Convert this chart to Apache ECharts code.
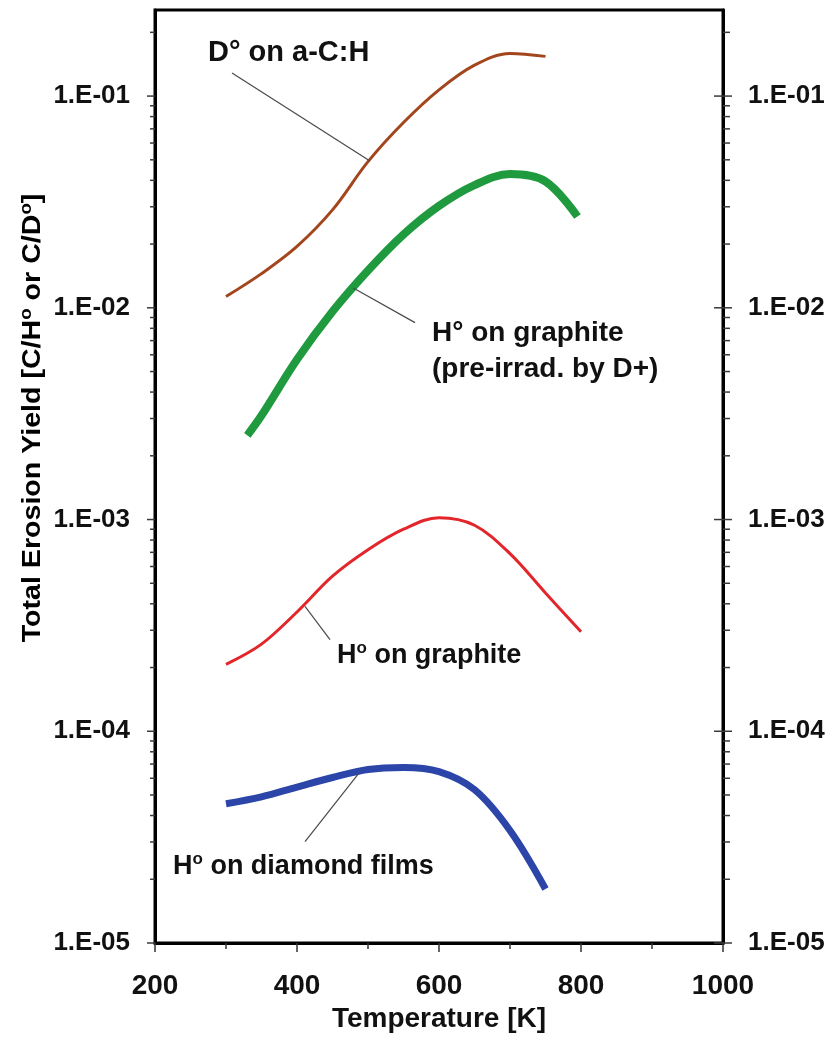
<!DOCTYPE html>
<html>
<head>
<meta charset="utf-8">
<title>Total erosion yield vs temperature</title>
<script src="https://cdn.jsdelivr.net/npm/echarts@6/dist/echarts.min.js"></script>
<style>
html, body { margin: 0; padding: 0; background: #fff; }
#chart { width: 835px; height: 1043px; }
</style>
</head>
<body>
<div id="chart"></div>
<script>
// Total erosion yield against surface temperature for four exposures.
// D° on a-C:H
const tempACH  = [300, 350, 400, 450, 500, 550, 600, 650, 700, 750];
const yieldACH = [0.0113, 0.0145, 0.0195, 0.0290, 0.0490, 0.0750, 0.1070, 0.1400, 0.1590, 0.1540];
// H° on graphite pre-irradiated by D+
const tempPre  = [330, 350, 400, 450, 500, 550, 600, 650, 700, 750, 795];
const yieldPre = [0.0025, 0.0031, 0.0057, 0.0096, 0.0150, 0.0222, 0.0303, 0.0380, 0.0428, 0.0395, 0.0270];
// H° on graphite
const tempHG   = [300, 350, 400, 450, 500, 550, 600, 650, 700, 750, 800];
const yieldHG  = [2.07e-4, 2.58e-4, 3.66e-4, 5.4e-4, 7.2e-4, 9.0e-4, 1.02e-3, 9.4e-4, 6.9e-4, 4.5e-4, 2.95e-4];
// H° on diamond films
const tempDia  = [300, 350, 400, 450, 500, 550, 600, 650, 700, 750];
const yieldDia = [4.55e-5, 4.9e-5, 5.45e-5, 6.05e-5, 6.6e-5, 6.75e-5, 6.45e-5, 5.3e-5, 3.4e-5, 1.8e-5];

// Axis ranges and tick values
const X_MIN = 200, X_MAX = 1000, X_STEP = 200;
const Y_MIN = 1e-5, Y_MAX = 0.255;
const Y_DECADES = [1e-5, 1e-4, 1e-3, 1e-2, 1e-1];
const Y_MINOR_STEPS = [2, 3, 4, 5, 6, 7, 8, 9];

// Leader lines from each caption to its curve, [temperature, yield]
const leadACH = [[308.5, 0.1284], [502.8, 0.0494]];
const leadPre = [[479.3, 0.0124], [566.2, 0.00851]];
const leadHG  = [[411.3, 3.89e-4], [446.5, 2.71e-4]];
const leadDia = [[486.4, 6.3e-5], [411.3, 3.01e-5]];

const FONT = '"Liberation Sans", Arial, Helvetica, sans-serif';
const INK = '#111';
const SMOOTH = 0.35;

function pairs(xs, ys) { return xs.map((x, i) => [x, ys[i]]); }

function decadeLabel(v) {
  const lg = Math.log10(v);
  const e = Math.round(lg);
  if (Math.abs(lg - e) > 1e-6) return '';
  const n = Math.abs(e);
  return '1.E' + (e < 0 ? '-' : '+') + (n < 10 ? '0' + n : String(n));
}

// Tick list for the log axes: [value, isMajor]
const yTicks = [];
Y_DECADES.forEach(d => {
  yTicks.push([d, 1]);
  Y_MINOR_STEPS.forEach(k => { if (d * k <= Y_MAX) yTicks.push([d * k, 0]); });
});

function leader(pts) {
  return {
    silent: true,
    symbol: ['none', 'none'],
    label: { show: false },
    lineStyle: { color: '#4a4a4a', width: 1.2, type: 'solid' },
    emphasis: { disabled: true },
    data: [[{ coord: pts[0] }, { coord: pts[1] }]]
  };
}

const richText = {
  t: { fontSize: 27, fontWeight: 'bold', fontFamily: FONT, color: INK, lineHeight: 32 },
  s: { fontSize: 17, fontWeight: 'bold', fontFamily: FONT, color: INK, lineHeight: 17, verticalAlign: 'top' }
};

function yAxisCfg(pos) {
  return {
    type: 'log',
    logBase: 10,
    min: Y_MIN,
    max: Y_MAX,
    position: pos,
    axisLine: { show: true, onZero: false, lineStyle: { color: '#000', width: 3 } },
    axisTick: { show: false },
    splitLine: { show: false },
    axisLabel: {
      formatter: decadeLabel,
      showMaxLabel: false,
      fontSize: 26,
      fontWeight: 'bold',
      fontFamily: FONT,
      color: INK,
      margin: 25
    }
  };
}

function curve(name, xs, ys, color, width, lead) {
  return {
    name: name,
    type: 'line',
    data: pairs(xs, ys),
    smooth: SMOOTH,
    showSymbol: false,
    lineStyle: { color: color, width: width },
    markLine: leader(lead)
  };
}

const chart = echarts.init(document.getElementById('chart'), null, { renderer: 'canvas' });

chart.setOption({
  animation: false,
  backgroundColor: '#fff',
  grid: {
    left: 155, right: 112, top: 10, bottom: 100,
    outerBoundsMode: 'none',
    containLabel: false,
    show: true, borderColor: '#000', borderWidth: 3, backgroundColor: 'transparent'
  },
  xAxis: {
    type: 'value',
    min: X_MIN, max: X_MAX, interval: X_STEP,
    name: 'Temperature [K]',
    nameLocation: 'middle',
    nameGap: 42,
    nameTextStyle: { fontSize: 28, fontWeight: 'bold', fontFamily: FONT, color: INK },
    axisLine: { show: true, onZero: false, lineStyle: { color: '#000', width: 3 } },
    axisTick: { show: true, inside: false, length: 9, lineStyle: { color: '#333', width: 1.5 } },
    minorTick: { show: true, splitNumber: 2, length: 6, lineStyle: { color: '#333', width: 1.5 } },
    splitLine: { show: false },
    minorSplitLine: { show: false },
    axisLabel: {
      formatter: v => String(v),
      fontSize: 28, fontWeight: 'bold', fontFamily: FONT, color: INK, margin: 29
    }
  },
  yAxis: [yAxisCfg('left'), yAxisCfg('right')],
  series: [
    {
      name: 'ticks',
      type: 'custom',
      silent: true,
      yAxisIndex: 0,
      dimensions: ['val', 'major'],
      encode: { y: 'val', x: 'major' },
      data: yTicks,
      renderItem: function (params, api) {
        const v = api.value(0);
        const major = api.value(1) === 1;
        const pL = api.coord([X_MIN, v]);
        const pR = api.coord([X_MAX, v]);
        const st = { stroke: '#3a3a3a', lineWidth: 1.5 };
        return {
          type: 'group',
          children: [
            { type: 'line', shape: { x1: pL[0] - (major ? 8 : 5), y1: pL[1], x2: pL[0], y2: pL[1] }, style: st },
            major
              ? { type: 'line', shape: { x1: pR[0] - 9, y1: pR[1], x2: pR[0] + 9, y2: pR[1] }, style: st }
              : { type: 'line', shape: { x1: pR[0], y1: pR[1], x2: pR[0] + 7, y2: pR[1] }, style: st }
          ]
        };
      }
    },
    curve('D° on a-C:H', tempACH, yieldACH, '#a4461d', 3, leadACH),
    curve('H° on graphite (pre-irrad. by D+)', tempPre, yieldPre, '#1f9a3e', 8, leadPre),
    curve('H° on graphite', tempHG, yieldHG, '#e2262b', 3, leadHG),
    curve('H° on diamond films', tempDia, yieldDia, '#2b46a8', 7, leadDia)
  ],
  graphic: [
    {
      // vertical axis title
      type: 'text', x: 33, y: 418, rotation: Math.PI / 2, scaleX: 1.1, silent: true,
      style: {
        text: '{t|Total Erosion Yield [C/H}{s|o}{t| or C/D}{s|o}{t|]}',
        align: 'center', verticalAlign: 'middle',
        rich: {
          t: { fontSize: 26, fontWeight: 'bold', fontFamily: FONT, color: INK, lineHeight: 30 },
          s: { fontSize: 17, fontWeight: 'bold', fontFamily: FONT, color: INK, lineHeight: 17, verticalAlign: 'top' }
        }
      }
    },
    {
      type: 'text', left: 208, top: 38, silent: true,
      style: { text: 'D° on a-C:H', font: 'bold 29px ' + FONT, fill: INK }
    },
    {
      type: 'text', left: 432, top: 315, silent: true,
      style: { text: 'H° on graphite\n(pre-irrad. by D+)', font: 'bold 28px ' + FONT, fill: INK, lineHeight: 36 }
    },
    {
      type: 'text', left: 337, top: 640, silent: true,
      style: { text: '{t|H}{s|o}{t| on graphite}', rich: richText, fill: INK }
    },
    {
      type: 'text', left: 173, top: 851, silent: true,
      style: { text: '{t|H}{s|o}{t| on diamond films}', rich: richText, fill: INK }
    }
  ]
});
</script>
</body>
</html>
